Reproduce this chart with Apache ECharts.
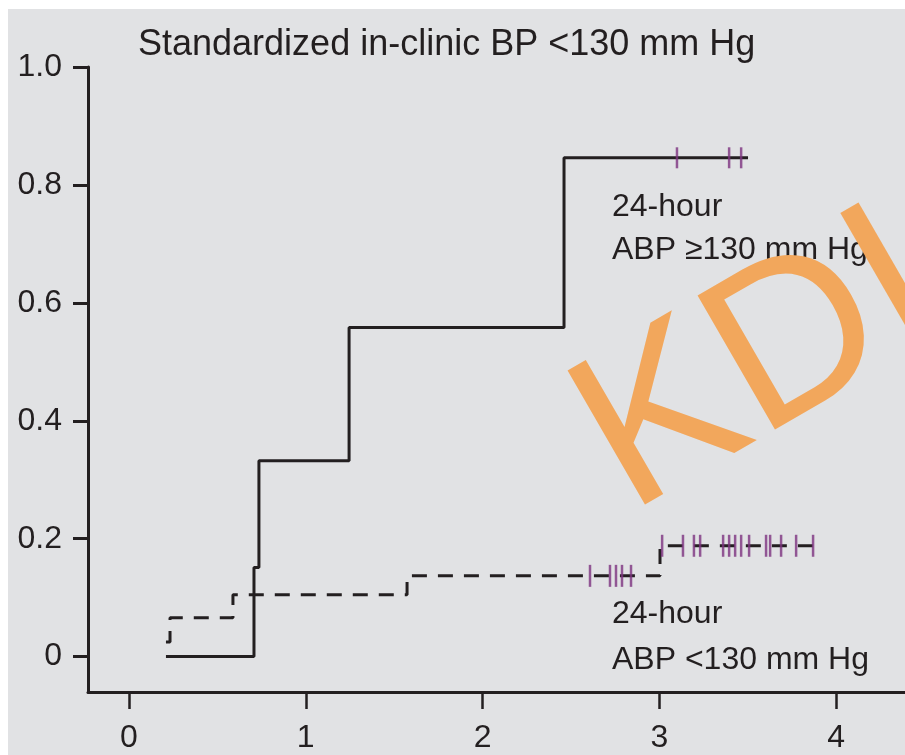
<!DOCTYPE html>
<html>
<head>
<meta charset="utf-8">
<title>Standardized in-clinic BP &lt;130 mm Hg</title>
<script src="https://cdn.jsdelivr.net/npm/echarts@6/dist/echarts.min.js"></script>
<style>
  html, body { margin: 0; padding: 0; background: #ffffff; }
  #chart { width: 905px; height: 755px; }
</style>
</head>
<body>
<div id="chart"></div>
<script>
// Cumulative incidence curves (step functions): time in years, proportion.
const highAbpTimes  = [0.209, 0.707, 0.735, 1.245, 2.461, 3.502];
const highAbpValues = [0, 0.151, 0.332, 0.558, 0.846, 0.846];

const lowAbpTimes  = [0.209, 0.232, 0.588, 1.573, 3.004, 3.926];
const lowAbpValues = [0.025, 0.066, 0.105, 0.137, 0.188, 0.188];

// Censoring times drawn as ticks on each curve
const highAbpCensor = [3.100, 3.395, 3.463];
const lowAbpCensor = [2.608, 2.721, 2.755, 2.789, 2.840, 3.016, 3.134, 3.196, 3.231,
                      3.361, 3.395, 3.429, 3.463, 3.508, 3.604, 3.627, 3.689, 3.774, 3.870];

const xTicks = [0, 1, 2, 3, 4];
const yTicks = [0, 0.2, 0.4, 0.6, 0.8, 1.0];

const titleText = 'Standardized in-clinic BP <130 mm Hg';
const highLabel = ['24-hour', 'ABP \u2265130 mm Hg'];
const lowLabel = ['24-hour', 'ABP <130 mm Hg'];
const watermark = 'KDI';

const INK = '#231f20';
const CENSOR = '#7d3380';
const FONT = '"Liberation Sans", Arial, sans-serif';

function pairs(xs, ys) { return xs.map((x, i) => [x, ys[i]]); }

// value of a step curve at time t
function stepAt(xs, ys, t) {
  let v = ys[0];
  for (let i = 0; i < xs.length; i++) { if (xs[i] <= t) v = ys[i]; }
  return v;
}
function censorPoints(times, xs, ys) { return times.map(t => [t, stepAt(xs, ys, t)]); }

const chart = echarts.init(document.getElementById('chart'), null, { renderer: 'canvas' });

const textEl = (x, y, text, size) => ({
  type: 'text', x: x, y: y, z: 10,
  style: { text: text, fill: INK, font: size + 'px ' + FONT, textAlign: 'left', verticalAlign: 'middle' }
});

chart.setOption({
  animation: false,
  backgroundColor: '#ffffff',
  grid: { left: 88, top: 67, right: 0, bottom: 63, containLabel: false },
  xAxis: {
    type: 'value', min: -0.232, max: 4.39,
    splitLine: { show: false },
    axisLine: { show: true, onZero: false, lineStyle: { color: INK, width: 3 } },
    axisTick: { show: true, customValues: xTicks, length: 17, lineStyle: { color: INK, width: 2.5 } },
    axisLabel: {
      customValues: xTicks, margin: 30, color: INK, fontSize: 32, fontFamily: FONT,
      formatter: v => String(v)
    }
  },
  yAxis: {
    type: 'value', min: -0.06, max: 1.0,
    splitLine: { show: false },
    axisLine: { show: true, onZero: false, lineStyle: { color: INK, width: 3 } },
    axisTick: { show: true, customValues: yTicks, length: 15, lineStyle: { color: INK, width: 3 } },
    axisLabel: {
      customValues: yTicks, margin: 26, color: INK, fontSize: 32, fontFamily: FONT,
      formatter: v => (v === 0 ? '0' : v.toFixed(1))
    }
  },
  graphic: [
    { type: 'rect', shape: { x: 8, y: 9, width: 905, height: 755 }, z: -10, style: { fill: '#e1e2e4' } },
    textEl(138, 45, titleText, 36),
    textEl(612, 207, highLabel[0], 32),
    textEl(612, 250, highLabel[1], 32),
    textEl(612, 614, lowLabel[0], 32),
    textEl(612, 660, lowLabel[1], 32),
    {
      type: 'text', x: 598, y: 460, rotation: Math.PI / 6, z: 20,
      style: { text: watermark, fill: '#f2a75c', font: '225px ' + FONT, textAlign: 'left', verticalAlign: 'middle' }
    }
  ],
  series: [
    {
      name: 'ABP >=130', type: 'line', step: 'end', showSymbol: false, symbol: 'none',
      data: pairs(highAbpTimes, highAbpValues),
      lineStyle: { color: INK, width: 3 }, z: 3
    },
    {
      name: 'ABP <130', type: 'line', step: 'end', showSymbol: false, symbol: 'none',
      data: pairs(lowAbpTimes, lowAbpValues),
      lineStyle: { color: INK, width: 3, type: [15, 11] }, z: 3
    },
    {
      name: 'censor high', type: 'scatter', symbol: 'rect', symbolSize: [2.5, 21],
      data: censorPoints(highAbpCensor, highAbpTimes, highAbpValues),
      itemStyle: { color: CENSOR }, z: 4
    },
    {
      name: 'censor low', type: 'scatter', symbol: 'rect', symbolSize: [2.5, 22],
      data: censorPoints(lowAbpCensor, lowAbpTimes, lowAbpValues),
      itemStyle: { color: CENSOR }, z: 4
    }
  ]
});
</script>
</body>
</html>
